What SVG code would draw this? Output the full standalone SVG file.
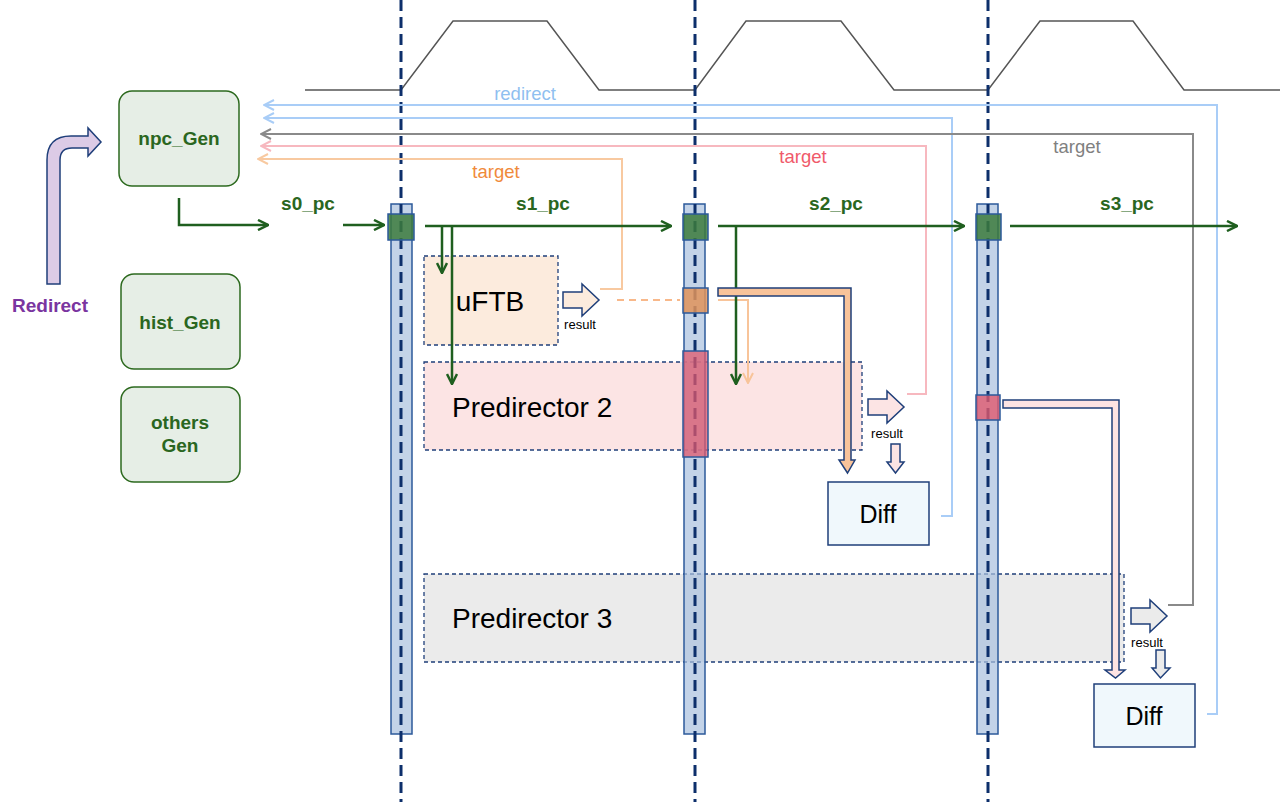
<svg xmlns="http://www.w3.org/2000/svg" width="1280" height="802" viewBox="0 0 1280 802">
<style>
.gen rect{fill:#e6eee6;stroke:#2d6a1f;stroke-width:1.5}
.gt{font-family:"Liberation Sans",Arial,sans-serif;font-weight:bold;font-size:19px;fill:#2a6620;text-anchor:middle}
.pc{font-family:"Liberation Sans",Arial,sans-serif;font-weight:bold;font-size:19px;fill:#2a6620;text-anchor:middle}
.big{font-family:"Liberation Sans",Arial,sans-serif;font-size:28px;fill:#000}
.diff{font-family:"Liberation Sans",Arial,sans-serif;font-size:25px;fill:#000;text-anchor:middle}
.res{font-family:"Liberation Sans",Arial,sans-serif;font-size:13px;fill:#000;text-anchor:middle}
.lbl{font-family:"Liberation Sans",Arial,sans-serif;font-size:18.5px;text-anchor:middle}
.pred{stroke:#1f3f7a;stroke-width:1.3;stroke-dasharray:4 3}
.bar{fill:#a9c0de;fill-opacity:0.7;stroke:#2c5a9a;stroke-width:1.5}
.vdash{stroke:#0d2f6b;stroke-width:3;stroke-dasharray:11 6;fill:none}
.blk{stroke:#1f3f7a;stroke-width:1.5}
.g{stroke:#1f5f1f;stroke-width:2.5;fill:none}
.fb{stroke-width:2;fill:none}
.reg{stroke:#2c5a9a;stroke-width:1.5}
</style>
<defs>
<marker id="mg" viewBox="0 0 12 12" refX="11" refY="6" markerWidth="12" markerHeight="12" markerUnits="userSpaceOnUse" orient="auto"><path d="M1,1 L11,6 L1,11" fill="none" stroke="#1f5f1f" stroke-width="2.5"/></marker>
<marker id="mo" viewBox="0 0 12 12" refX="11" refY="6" markerWidth="12" markerHeight="12" markerUnits="userSpaceOnUse" orient="auto"><path d="M1,1 L11,6 L1,11" fill="none" stroke="#f8c49a" stroke-width="2"/></marker>
<marker id="mb" viewBox="0 0 12 12" refX="11" refY="6" markerWidth="12" markerHeight="12" markerUnits="userSpaceOnUse" orient="auto"><path d="M1,1 L11,6 L1,11" fill="none" stroke="#a9cdf7" stroke-width="2"/></marker>
<marker id="mgr" viewBox="0 0 12 12" refX="11" refY="6" markerWidth="12" markerHeight="12" markerUnits="userSpaceOnUse" orient="auto"><path d="M1,1 L11,6 L1,11" fill="none" stroke="#8a8a8a" stroke-width="2"/></marker>
<marker id="mp" viewBox="0 0 12 12" refX="11" refY="6" markerWidth="12" markerHeight="12" markerUnits="userSpaceOnUse" orient="auto"><path d="M1,1 L11,6 L1,11" fill="none" stroke="#f7b8bf" stroke-width="2"/></marker>
<marker id="mor" viewBox="0 0 12 12" refX="11" refY="6" markerWidth="12" markerHeight="12" markerUnits="userSpaceOnUse" orient="auto"><path d="M1,1 L11,6 L1,11" fill="none" stroke="#f8c9a0" stroke-width="2"/></marker>
</defs>
<rect width="1280" height="802" fill="#fff"/>

<!-- clock -->
<g id="clock"><polyline points="305,90 401,90 453,21 547,21 599,90 695,90 746,21 841,21 894,90 988,90 1040,21 1133,21 1184,90 1280,90" fill="none" stroke="#555" stroke-width="1.5"/></g>

<!-- predictor boxes -->
<g id="uftb"><rect class="pred" x="424" y="256" width="134" height="89" fill="#fcebdd"/><text class="big" x="490" y="311" text-anchor="middle">uFTB</text></g>
<g id="pred2"><rect class="pred" x="424" y="362" width="438" height="88" fill="#fce4e4"/><text class="big" x="452" y="417">Predirector 2</text></g>
<g id="pred3"><rect class="pred" x="424" y="574" width="700" height="88" fill="#ebebeb"/><text class="big" x="452" y="628">Predirector 3</text></g>

<!-- pipeline bars -->
<g id="stage1"><rect class="bar" x="391" y="204" width="21" height="530"/></g>
<g id="stage2"><rect class="bar" x="684" y="204" width="21" height="530"/></g>
<g id="stage3"><rect class="bar" x="977" y="204" width="21" height="530"/></g>
<g id="dashlines">
<line class="vdash" x1="401" y1="0" x2="401" y2="802"/>
<line class="vdash" x1="695" y1="0" x2="695" y2="802"/>
<line class="vdash" x1="988" y1="0" x2="988" y2="802"/>
</g>

<!-- registers -->
<g id="regs">
<rect class="reg" x="388" y="214" width="26" height="26" fill="#3c7a3c" fill-opacity="0.85"/>
<rect class="reg" x="683" y="214" width="25" height="26" fill="#3c7a3c" fill-opacity="0.85"/>
<rect class="reg" x="976" y="214" width="25" height="26" fill="#3c7a3c" fill-opacity="0.85"/>
<rect class="reg" x="683" y="288" width="25" height="25" fill="#e0935a" fill-opacity="0.85"/>
<rect class="reg" x="683" y="351" width="25" height="106" fill="#e05a6e" fill-opacity="0.75"/>
<rect class="reg" x="976" y="395" width="24" height="25" fill="#e05a6e" fill-opacity="0.8"/>
</g>

<!-- gen nodes -->
<g id="npc_Gen" class="gen"><rect x="119" y="91" width="120" height="95" rx="13"/><text class="gt" x="179" y="145">npc_Gen</text></g>
<g id="hist_Gen" class="gen"><rect x="121" y="274" width="119" height="95" rx="13"/><text class="gt" x="180" y="329">hist_Gen</text></g>
<g id="others_Gen" class="gen"><rect x="121" y="387" width="119" height="95" rx="13"/><text class="gt" x="180" y="429">others</text><text class="gt" x="180" y="452">Gen</text></g>

<g id="redirect_in">
<path class="blk" d="M47,284 L47,160 Q47,136 71,136 L88,136 L88,128 L101,142 L88,156 L88,148 L72,148 Q60,148 60,160 L60,284 Z" fill="#dccbe6"/>
<text x="50" y="312" font-family="'Liberation Sans',Arial,sans-serif" font-weight="bold" font-size="19" fill="#7a35a0" text-anchor="middle">Redirect</text>
</g>

<!-- diff boxes -->
<g id="diff1"><rect x="828" y="482" width="101" height="63" fill="#f0f8fc" stroke="#1f3f7a" stroke-width="1.5"/><text class="diff" x="878" y="523">Diff</text></g>
<g id="diff2"><rect x="1094" y="684" width="101" height="63" fill="#f0f8fc" stroke="#1f3f7a" stroke-width="1.5"/><text class="diff" x="1144" y="725">Diff</text></g>

<!-- connectors -->
<g id="connectors">
<polyline class="fb" stroke="#a9cdf7" points="1207,714 1217,714 1217,105 264,105" marker-end="url(#mb)"/>
<polyline class="fb" stroke="#a9cdf7" points="941,516 952,516 952,118 264,118" marker-end="url(#mb)"/>
<polyline class="fb" stroke="#8a8a8a" points="1168,605 1193,605 1193,134 261,134" marker-end="url(#mgr)"/>
<polyline class="fb" stroke="#f7b8bf" points="907,394 926,394 926,146 261,146" marker-end="url(#mp)"/>
<polyline class="fb" stroke="#f8c9a0" points="600,289 622,289 622,159 258,159" marker-end="url(#mor)"/>
<line x1="617" y1="300" x2="680" y2="300" stroke="#f8b88a" stroke-width="2" stroke-dasharray="7 5"/>

<polyline class="g" points="179,198 179,225 268,225" marker-end="url(#mg)"/>
<line class="g" x1="343" y1="225" x2="384" y2="225" marker-end="url(#mg)"/>
<line class="g" x1="425" y1="226" x2="671" y2="226" marker-end="url(#mg)"/>
<line class="g" x1="442" y1="226" x2="442" y2="273" marker-end="url(#mg)"/>
<line class="g" x1="452" y1="226" x2="452" y2="384" marker-end="url(#mg)"/>
<polyline class="fb" stroke="#f8c49a" points="718,300 748,300 748,383" marker-end="url(#mo)"/>
<line class="g" x1="718" y1="226" x2="964" y2="226" marker-end="url(#mg)"/>
<line class="g" x1="736" y1="226" x2="736" y2="384" marker-end="url(#mg)"/>
<line class="g" x1="1010" y1="226" x2="1237" y2="226" marker-end="url(#mg)"/>

<path class="blk" d="M563,292 L582,292 L582,284 L599,300 L582,316 L582,308 L563,308 Z" fill="#fcebdd"/>
<path class="blk" d="M868,399 L887,399 L887,391 L904,407 L887,423 L887,415 L868,415 Z" fill="#fce4e4"/>
<path class="blk" d="M1131,608 L1150,608 L1150,600 L1167,616 L1150,632 L1150,624 L1131,624 Z" fill="#ebebeb"/>
<path class="blk" d="M891,444 L900,444 L900,462 L904,462 L895.5,473 L887,462 L891,462 Z" fill="#fce4e4"/>
<path class="blk" d="M1156,650 L1165,650 L1165,668 L1170,668 L1160.5,678 L1152,668 L1156,668 Z" fill="#ebebeb"/>
<path class="blk" d="M718,288 L851,288 L851,460 L855,460 L847.5,473 L839,460 L844,460 L844,296 L718,296 Z" fill="#f8c39a"/>
<path class="blk" d="M1003,400 L1119,400 L1119,670 L1125,670 L1115.5,678 L1105,670 L1112,670 L1112,408 L1003,408 Z" fill="#fde3e3"/>
</g>

<g id="labels">
<text class="pc" x="308" y="210">s0_pc</text>
<text class="pc" x="543" y="210">s1_pc</text>
<text class="pc" x="836" y="210">s2_pc</text>
<text class="pc" x="1127" y="210">s3_pc</text>
<text class="res" x="580" y="329">result</text>
<text class="res" x="887" y="438">result</text>
<text class="res" x="1147" y="647">result</text>
<text class="lbl" x="525" y="100" fill="#8fbff0">redirect</text>
<text class="lbl" x="496" y="178" fill="#f08a3a">target</text>
<text class="lbl" x="803" y="163" fill="#f05a6a">target</text>
<text class="lbl" x="1077" y="153" fill="#808080">target</text>
</g>
</svg>
